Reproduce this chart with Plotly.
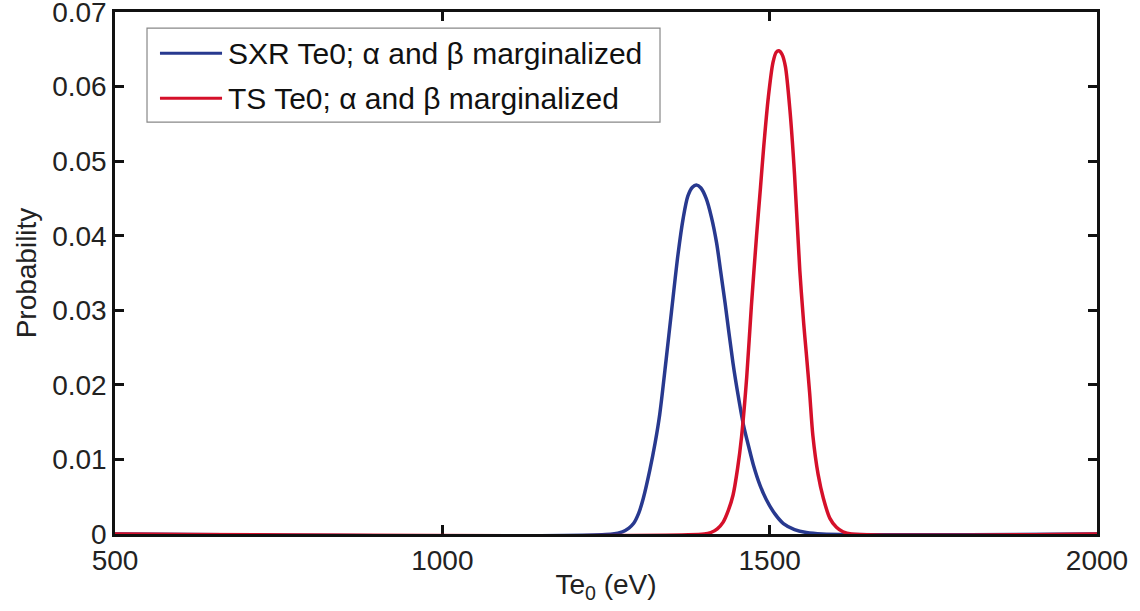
import plotly.graph_objects as go

# ---- data ----
sxr_name = "SXR Te0; α and β marginalized"
ts_name = "TS Te0; α and β marginalized"

sxr_te0 = [500, 1260, 1275, 1285, 1292, 1300, 1307, 1317, 1325, 1332, 1342, 1350,
           1360, 1368, 1375, 1382, 1388, 1395, 1403, 1411, 1419, 1425, 1432, 1444,
           1452, 1460, 1468, 1475, 1485, 1495, 1508, 1521, 1538, 1556, 1580, 2000]
sxr_prob = [0, 0, 0.0003, 0.0008, 0.0014, 0.0028, 0.0048, 0.0086, 0.0122, 0.0160,
            0.0235, 0.0298, 0.0375, 0.0424, 0.0453, 0.0465, 0.0468, 0.0464, 0.0450,
            0.0425, 0.0390, 0.0353, 0.0309, 0.0229, 0.0185, 0.0146, 0.0117, 0.0093,
            0.0066, 0.0046, 0.0027, 0.0014, 0.0006, 0.0002, 0, 0]

ts_te0 = [500, 1400, 1410, 1420, 1429, 1437, 1444, 1451, 1457, 1465, 1472, 1480,
          1486, 1491, 1498, 1505, 1510, 1514, 1519, 1524, 1531, 1538, 1546, 1552,
          1556, 1561, 1566, 1574, 1582, 1592, 1602, 1612, 1625, 2000]
ts_prob = [0, 0, 0.0002, 0.0007, 0.0016, 0.0032, 0.0052, 0.0088, 0.0130, 0.0211,
           0.0305, 0.0400, 0.0465, 0.0520, 0.0586, 0.0632, 0.0646, 0.0648, 0.0643,
           0.0627, 0.0568, 0.0482, 0.0354, 0.0282, 0.0242, 0.0190, 0.0132, 0.0080,
           0.0048, 0.0021, 0.0009, 0.0003, 0, 0]

x_ticks = [500, 1000, 1500, 2000]
y_ticks = [0, 0.01, 0.02, 0.03, 0.04, 0.05, 0.06, 0.07]

BLUE = "#28398F"
RED = "#D5102A"
FONT = "Liberation Sans, Arial, Helvetica, sans-serif"

fig = go.Figure()
fig.add_trace(go.Scatter(x=sxr_te0, y=sxr_prob, mode="lines", name=sxr_name,
                         line=dict(color=BLUE, width=3.5, shape="spline", smoothing=0.8),
                         cliponaxis=False, showlegend=False))
fig.add_trace(go.Scatter(x=ts_te0, y=ts_prob, mode="lines", name=ts_name,
                         line=dict(color=RED, width=3.5, shape="spline", smoothing=0.8),
                         cliponaxis=False, showlegend=False))

axis_common = dict(showgrid=False, zeroline=False, showline=True, linecolor="#111",
                   linewidth=2.5, mirror="ticks", ticks="inside", ticklen=9,
                   tickwidth=2.5, tickcolor="#111", automargin=False,
                   layer="below traces", ticklabeloverflow="allow",
                   tickfont=dict(family=FONT, size=28, color="#222"))

fig.update_xaxes(range=[500, 2000], tickvals=x_ticks,
                 ticktext=[str(v) for v in x_ticks],
                 title=dict(text="Te<sub>0</sub> (eV)", standoff=0,
                            font=dict(family=FONT, size=28, color="#222")),
                 **axis_common)
fig.update_yaxes(range=[0, 0.07], tickvals=y_ticks,
                 ticktext=["0" if v == 0 else f"{v:g}" for v in y_ticks],
                 title=dict(text="Probability", standoff=8,
                            font=dict(family=FONT, size=28, color="#222")),
                 **axis_common)

# custom legend (MATLAB-style box with long line samples)
fig.add_shape(type="rect", xref="paper", yref="paper",
              x0=0.0326, x1=0.555, y0=0.789, y1=0.969,
              line=dict(color="#888", width=1.2), fillcolor="white", layer="above")
for i, (nm, col) in enumerate([(sxr_name, BLUE), (ts_name, RED)]):
    yy = 0.921 - i * 0.086
    fig.add_shape(type="line", xref="paper", yref="paper",
                  x0=0.0458, x1=0.109, y0=yy, y1=yy,
                  line=dict(color=col, width=3), layer="above")
    fig.add_annotation(text=nm, xref="paper", yref="paper", x=0.113, y=yy,
                       xanchor="left", yanchor="middle", showarrow=False,
                       font=dict(family=FONT, size=30, color="#111"))

fig.update_layout(width=1140, height=611,
                  margin=dict(l=115, r=43, t=12, b=77),
                  plot_bgcolor="white", paper_bgcolor="white",
                  font=dict(family=FONT))

fig.write_html("out.html")
